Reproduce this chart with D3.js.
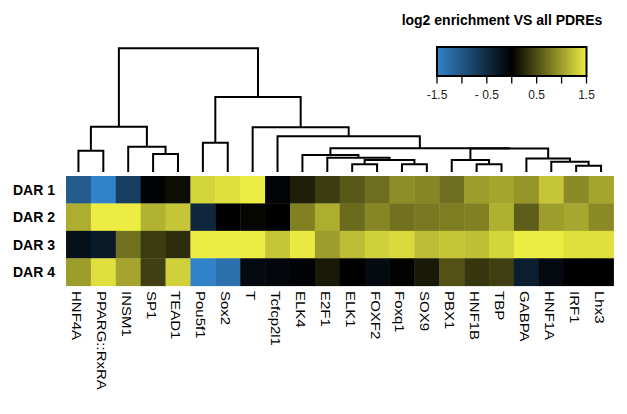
<!DOCTYPE html>
<html><head><meta charset="utf-8">
<script src="https://cdn.jsdelivr.net/npm/d3@7"></script>
<style>html,body{margin:0;padding:0;background:#fff;}svg{display:block;font-family:"Liberation Sans",Arial,Helvetica,sans-serif;}</style>
</head><body>
<svg id="c" width="627" height="414"></svg>
<script>
const columns = ["HNF4A","PPARG::RxRA","INSM1","SP1","TEAD1","Pou5f1","Sox2","T","Tcfcp2l1","ELK4","E2F1","ELK1","FOXF2","Foxq1","SOX9","PBX1","HNF1B","TBP","GABPA","HNF1A","IRF1","Lhx3"];
const rows = ["DAR 1","DAR 2","DAR 3","DAR 4"];
const dar1 = [-1.05,-1.5,-0.72,-0.02,0.08,1.35,1.42,1.5,-0.05,0.2,0.38,0.56,0.7,0.9,0.85,0.7,1.0,1.05,0.95,1.25,0.88,1.05];
const dar2 = [1.1,1.5,1.5,1.13,1.25,-0.45,0,0.03,0,0.82,1.1,0.68,0.85,0.72,0.76,0.8,0.82,1.12,0.6,1.0,1.06,0.88];
const dar3 = [-0.2,-0.3,0.72,0.38,0.28,1.5,1.5,1.5,1.25,1.48,1.0,1.2,1.32,1.38,1.2,1.25,1.22,1.35,1.5,1.5,1.42,1.42];
const dar4 = [1.0,1.42,1.04,0.4,1.32,-1.5,-1.3,-0.12,-0.08,-0.03,0.16,0,-0.12,0.01,0.16,0.52,0.35,0.4,-0.35,-0.12,0,0];
const values = [dar1, dar2, dar3, dar4];
// dendrogram merges: [left, right, height]; "#k" refers to merge k
const merges = [
  ["HNF4A","PPARG::RxRA",1.72],
  ["SP1","TEAD1",1.45],
  ["INSM1","#1",2.04],
  ["#0","#2",3.65],
  ["Pou5f1","Sox2",2.36],
  ["ELK1","FOXF2",0.62],
  ["Foxq1","SOX9",0.62],
  ["#5","#6",0.97],
  ["E2F1","#7",1.15],
  ["ELK4","#8",1.37],
  ["HNF1B","TBP",0.62],
  ["PBX1","#10",0.97],
  ["IRF1","Lhx3",0.51],
  ["HNF1A","#12",0.83],
  ["GABPA","#13",1.10],
  ["#11","#14",1.90],
  ["#9","#15",1.91],
  ["Tcfcp2l1","#16",2.9],
  ["T","#17",3.62],
  ["#4","#18",6.07],
  ["#3","#19",10.0]
];
const legendTicks = [-1.5,-1.0,-0.5,0,0.5,1.0,1.5];
const legendLabels = [[-1.5,"-1.5"],[-0.5,"- 0.5"],[0.5,"0.5"],[1.5,"1.5"]];
const legendTitle = "log2 enrichment VS all PDREs";

const svg = d3.select("#c");
const color = d3.scaleLinear().domain([-1.5,0,1.5]).range(["#3182c8","#000000","#ecec42"]).clamp(true);

const x = d3.scaleBand().domain(columns).range([66,613.5]);
const y = d3.scaleBand().domain(rows).range([176,285.7]);
const h = d3.scaleLinear().domain([0,10]).range([172,48.3]);

// heatmap cells
const cells = [];
rows.forEach((r,i)=>columns.forEach((c,j)=>cells.push({r,c,v:values[i][j]})));
svg.append("g").selectAll("rect").data(cells).join("rect")
  .attr("x",d=>x(d.c)).attr("y",d=>y(d.r))
  .attr("width",x.bandwidth()+0.4).attr("height",y.bandwidth()+0.4)
  .attr("fill",d=>color(d.v));

// row labels
svg.append("g").selectAll("text").data(rows).join("text")
  .attr("x",55).attr("y",d=>y(d)+y.bandwidth()/2).attr("dy","0.36em")
  .attr("text-anchor","end").attr("font-weight","bold").attr("font-size",14)
  .text(d=>d);

// column labels
svg.append("g").selectAll("text").data(columns).join("text")
  .attr("transform",d=>`translate(${x(d)+x.bandwidth()/2-6.5},291) rotate(90) scale(1,0.88)`)
  .attr("font-size",15).attr("fill","#000")
  .text(d=>d);

// dendrogram
const pos = {};
columns.forEach(c=>pos[c]={x:x(c)+x.bandwidth()/2, y:h(0)});
const dg = svg.append("g").attr("fill","none").attr("stroke","#000").attr("stroke-width",2);
merges.forEach((m,i)=>{
  const a = pos[m[0]], b = pos[m[1]];
  const yy = h(m[2]);
  dg.append("path").attr("d",`M${a.x},${a.y}V${yy}H${b.x}V${b.y}`);
  pos["#"+i] = {x:(a.x+b.x)/2, y:yy};
});

// legend
const lx = d3.scaleLinear().domain([-1.5,1.5]).range([437,586.5]);
const defs = svg.append("defs");
const grad = defs.append("linearGradient").attr("id","lg");
d3.range(0,1.0001,0.05).forEach(t=>grad.append("stop").attr("offset",t).attr("stop-color",color(-1.5+3*t)));
svg.append("rect").attr("x",lx(-1.5)).attr("y",47).attr("width",lx(1.5)-lx(-1.5)).attr("height",29)
  .attr("fill","url(#lg)").attr("stroke","#000").attr("stroke-width",2);
svg.append("g").selectAll("line").data(legendTicks).join("line")
  .attr("x1",d=>lx(d)).attr("x2",d=>lx(d)).attr("y1",76).attr("y2",83.5)
  .attr("stroke","#000").attr("stroke-width",1.3);
svg.append("g").selectAll("text").data(legendLabels).join("text")
  .attr("x",d=>lx(d[0])).attr("y",99).attr("text-anchor","middle").attr("font-size",12)
  .attr("fill","#222").text(d=>d[1]);
svg.append("text").attr("x",502).attr("y",25).attr("text-anchor","middle")
  .attr("font-weight","bold").attr("font-size",14).text(legendTitle);
</script>
</body></html>
